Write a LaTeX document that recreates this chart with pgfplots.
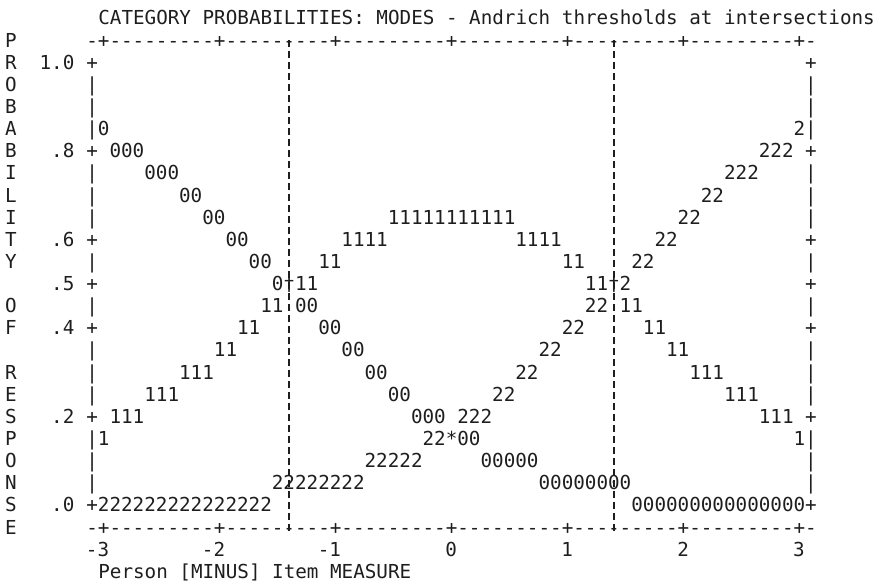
\documentclass[border=0pt]{standalone}
\usepackage{fontspec}
\usepackage{pgfplots}
\pgfplotsset{compat=1.18}
\newfontfamily\monoff{DejaVu Sans Mono}
\newcommand\mono{\monoff\fontsize{9.63pt}{11pt}\selectfont}
\definecolor{ink}{HTML}{1E1E1E}
\pgfplotsset{
  cell/.style={only marks, mark=text, text mark={#1}, text mark as node=true,
    text mark style={font=\mono, anchor=base, yshift=-3.5pt, inner sep=0pt, text=ink}},
}
\tikzset{cellnode/.style={font=\mono, anchor=base, yshift=-3.5pt, inner sep=0pt, text=ink}}
\begin{document}
\begin{tikzpicture}
\begin{axis}[
  scale only axis, width=439.5pt, height=292pt,
  xmin=-3.8931, xmax=3.6845, ymin=-0.17833, ymax=1.13995,
  axis line style={draw=none}, major tick length=0pt, clip=false,
  xtick={-3,-2,-1,0,1,2,3}, xticklabels={-3,-2,-1,0,1,2,3},
  xticklabel style={font=\mono, text=ink, inner sep=0pt, anchor=base east, xshift=2.9pt, yshift=13.85pt},
  ytick={0,0.2,0.4,0.5,0.6,0.8,1.0}, yticklabels={.0,.2,.4,.5,.6,.8,1.0},
  yticklabel style={font=\mono, text=ink, inner sep=0pt, anchor=base east, xshift=37.3pt, yshift=-3.5pt},
  title={CATEGORY PROBABILITIES: MODES - Andrich thresholds at intersections},
  every axis title/.style={at={(axis description cs:0.11126,0.96970)}, anchor=base west, yshift=-3.5pt, inner sep=0pt, font=\mono, text=ink},
  xlabel={Person [MINUS] Item MEASURE},
  xlabel style={at={(axis description cs:0.11126,0.02149)}, anchor=base west, yshift=-3.5pt, inner sep=0pt, font=\mono, text=ink},
]
% threshold lines
\addplot[ink, no marks, line width=1.1pt, dash pattern=on 3.4pt off 2.1pt] coordinates {(-1.4,1.05) (-1.4,-0.062)};
\addplot[ink, no marks, line width=1.1pt, dash pattern=on 3.4pt off 2.1pt] coordinates {(1.4,1.05) (1.4,-0.062)};
% frame: top and bottom rows
\addplot[cell={+}] coordinates {(-3,1.05)(-2,1.05)(-1,1.05)(0,1.05)(1,1.05)(2,1.05)(3,1.05)
 (-3,-0.05)(-2,-0.05)(-1,-0.05)(0,-0.05)(1,-0.05)(2,-0.05)(3,-0.05)};
\addplot[cell={-}] coordinates {(-3.1,1.05)(-2.9,1.05)(-2.8,1.05)(-2.7,1.05)(-2.6,1.05)(-2.5,1.05)(-2.4,1.05)(-2.3,1.05)(-2.2,1.05)(-2.1,1.05)
 (-1.9,1.05)(-1.8,1.05)(-1.7,1.05)(-1.6,1.05)(-1.5,1.05)(-1.4,1.05)(-1.3,1.05)(-1.2,1.05)(-1.1,1.05)
 (-0.9,1.05)(-0.8,1.05)(-0.7,1.05)(-0.6,1.05)(-0.5,1.05)(-0.4,1.05)(-0.3,1.05)(-0.2,1.05)(-0.1,1.05)
 (0.1,1.05)(0.2,1.05)(0.3,1.05)(0.4,1.05)(0.5,1.05)(0.6,1.05)(0.7,1.05)(0.8,1.05)(0.9,1.05)
 (1.1,1.05)(1.2,1.05)(1.3,1.05)(1.4,1.05)(1.5,1.05)(1.6,1.05)(1.7,1.05)(1.8,1.05)(1.9,1.05)
 (2.1,1.05)(2.2,1.05)(2.3,1.05)(2.4,1.05)(2.5,1.05)(2.6,1.05)(2.7,1.05)(2.8,1.05)(2.9,1.05)(3.1,1.05)
 (-3.1,-0.05)(-2.9,-0.05)(-2.8,-0.05)(-2.7,-0.05)(-2.6,-0.05)(-2.5,-0.05)(-2.4,-0.05)(-2.3,-0.05)(-2.2,-0.05)(-2.1,-0.05)
 (-1.9,-0.05)(-1.8,-0.05)(-1.7,-0.05)(-1.6,-0.05)(-1.5,-0.05)(-1.4,-0.05)(-1.3,-0.05)(-1.2,-0.05)(-1.1,-0.05)
 (-0.9,-0.05)(-0.8,-0.05)(-0.7,-0.05)(-0.6,-0.05)(-0.5,-0.05)(-0.4,-0.05)(-0.3,-0.05)(-0.2,-0.05)(-0.1,-0.05)
 (0.1,-0.05)(0.2,-0.05)(0.3,-0.05)(0.4,-0.05)(0.5,-0.05)(0.6,-0.05)(0.7,-0.05)(0.8,-0.05)(0.9,-0.05)
 (1.1,-0.05)(1.2,-0.05)(1.3,-0.05)(1.4,-0.05)(1.5,-0.05)(1.6,-0.05)(1.7,-0.05)(1.8,-0.05)(1.9,-0.05)
 (2.1,-0.05)(2.2,-0.05)(2.3,-0.05)(2.4,-0.05)(2.5,-0.05)(2.6,-0.05)(2.7,-0.05)(2.8,-0.05)(2.9,-0.05)(3.1,-0.05)};
% frame: left and right borders
\addplot[cell={+}] coordinates {(-3.1,1)(-3.1,0.8)(-3.1,0.6)(-3.1,0.5)(-3.1,0.4)(-3.1,0.2)(-3.1,0)
 (3.1,1)(3.1,0.8)(3.1,0.6)(3.1,0.5)(3.1,0.4)(3.1,0.2)(3.1,0)};
\addplot[cell={|}] coordinates {(-3.1,0.95)(-3.1,0.90)(-3.1,0.85)(-3.1,0.75)(-3.1,0.70)(-3.1,0.65)(-3.1,0.55)(-3.1,0.45)(-3.1,0.35)(-3.1,0.30)(-3.1,0.25)(-3.1,0.15)(-3.1,0.10)(-3.1,0.05)
 (3.1,0.95)(3.1,0.90)(3.1,0.85)(3.1,0.75)(3.1,0.70)(3.1,0.65)(3.1,0.55)(3.1,0.45)(3.1,0.35)(3.1,0.30)(3.1,0.25)(3.1,0.15)(3.1,0.10)(3.1,0.05)};
% category 0
\addplot[cell={0}] coordinates {(-3.0,0.85)
 (-2.9,0.80)(-2.8,0.80)(-2.7,0.80) (-2.6,0.75)(-2.5,0.75)(-2.4,0.75)
 (-2.3,0.70)(-2.2,0.70) (-2.1,0.65)(-2.0,0.65) (-1.9,0.60)(-1.8,0.60)
 (-1.7,0.55)(-1.6,0.55) (-1.5,0.50) (-1.3,0.45)(-1.2,0.45)
 (-1.1,0.40)(-1.0,0.40) (-0.9,0.35)(-0.8,0.35) (-0.7,0.30)(-0.6,0.30)
 (-0.5,0.25)(-0.4,0.25) (-0.3,0.20)(-0.2,0.20)(-0.1,0.20)
 (0.1,0.15)(0.2,0.15)
 (0.3,0.10)(0.4,0.10)(0.5,0.10)(0.6,0.10)(0.7,0.10)
 (0.8,0.05)(0.9,0.05)(1.0,0.05)(1.1,0.05)(1.2,0.05)(1.3,0.05)(1.4,0.05)(1.5,0.05)
 (1.6,0)(1.7,0)(1.8,0)(1.9,0)(2.0,0)(2.1,0)(2.2,0)(2.3,0)(2.4,0)(2.5,0)(2.6,0)(2.7,0)(2.8,0)(2.9,0)(3.0,0)};
% category 1
\addplot[cell={1}] coordinates {(-3.0,0.15)
 (-2.9,0.20)(-2.8,0.20)(-2.7,0.20) (-2.6,0.25)(-2.5,0.25)(-2.4,0.25)
 (-2.3,0.30)(-2.2,0.30)(-2.1,0.30) (-2.0,0.35)(-1.9,0.35) (-1.8,0.40)(-1.7,0.40)
 (-1.6,0.45)(-1.5,0.45) (-1.3,0.50)(-1.2,0.50) (-1.1,0.55)(-1.0,0.55)
 (-0.9,0.60)(-0.8,0.60)(-0.7,0.60)(-0.6,0.60)
 (-0.5,0.65)(-0.4,0.65)(-0.3,0.65)(-0.2,0.65)(-0.1,0.65)(0,0.65)(0.1,0.65)(0.2,0.65)(0.3,0.65)(0.4,0.65)(0.5,0.65)
 (0.6,0.60)(0.7,0.60)(0.8,0.60)(0.9,0.60)
 (1.0,0.55)(1.1,0.55) (1.2,0.50)(1.3,0.50) (1.5,0.45)(1.6,0.45) (1.7,0.40)(1.8,0.40)
 (1.9,0.35)(2.0,0.35) (2.1,0.30)(2.2,0.30)(2.3,0.30) (2.4,0.25)(2.5,0.25)(2.6,0.25)
 (2.7,0.20)(2.8,0.20)(2.9,0.20) (3.0,0.15)};
% category 2
\addplot[cell={2}] coordinates {(3.0,0.85)
 (2.9,0.80)(2.8,0.80)(2.7,0.80) (2.6,0.75)(2.5,0.75)(2.4,0.75)
 (2.3,0.70)(2.2,0.70) (2.1,0.65)(2.0,0.65) (1.9,0.60)(1.8,0.60)
 (1.7,0.55)(1.6,0.55) (1.5,0.50) (1.3,0.45)(1.2,0.45)
 (1.1,0.40)(1.0,0.40) (0.9,0.35)(0.8,0.35) (0.7,0.30)(0.6,0.30)
 (0.5,0.25)(0.4,0.25) (0.3,0.20)(0.2,0.20)(0.1,0.20)
 (-0.1,0.15)(-0.2,0.15)
 (-0.3,0.10)(-0.4,0.10)(-0.5,0.10)(-0.6,0.10)(-0.7,0.10)
 (-0.8,0.05)(-0.9,0.05)(-1.0,0.05)(-1.1,0.05)(-1.2,0.05)(-1.3,0.05)(-1.4,0.05)(-1.5,0.05)
 (-1.6,0)(-1.7,0)(-1.8,0)(-1.9,0)(-2.0,0)(-2.1,0)(-2.2,0)(-2.3,0)(-2.4,0)(-2.5,0)(-2.6,0)(-2.7,0)(-2.8,0)(-2.9,0)(-3.0,0)};
% crossings
\addplot[cell={*}] coordinates {(0,0.15)};
\addplot[cell={†}] coordinates {(-1.4,0.5)(1.4,0.5)};
% vertical y label
\node[cellnode] at (axis cs:-3.8,1.05) {P};
\node[cellnode] at (axis cs:-3.8,1.00) {R};
\node[cellnode] at (axis cs:-3.8,0.95) {O};
\node[cellnode] at (axis cs:-3.8,0.90) {B};
\node[cellnode] at (axis cs:-3.8,0.85) {A};
\node[cellnode] at (axis cs:-3.8,0.80) {B};
\node[cellnode] at (axis cs:-3.8,0.75) {I};
\node[cellnode] at (axis cs:-3.8,0.70) {L};
\node[cellnode] at (axis cs:-3.8,0.65) {I};
\node[cellnode] at (axis cs:-3.8,0.60) {T};
\node[cellnode] at (axis cs:-3.8,0.55) {Y};
\node[cellnode] at (axis cs:-3.8,0.45) {O};
\node[cellnode] at (axis cs:-3.8,0.40) {F};
\node[cellnode] at (axis cs:-3.8,0.30) {R};
\node[cellnode] at (axis cs:-3.8,0.25) {E};
\node[cellnode] at (axis cs:-3.8,0.20) {S};
\node[cellnode] at (axis cs:-3.8,0.15) {P};
\node[cellnode] at (axis cs:-3.8,0.10) {O};
\node[cellnode] at (axis cs:-3.8,0.05) {N};
\node[cellnode] at (axis cs:-3.8,0.00) {S};
\node[cellnode] at (axis cs:-3.8,-0.05) {E};
\path (rel axis cs:0,0) rectangle (rel axis cs:1,1);
\end{axis}
\end{tikzpicture}
\end{document}
